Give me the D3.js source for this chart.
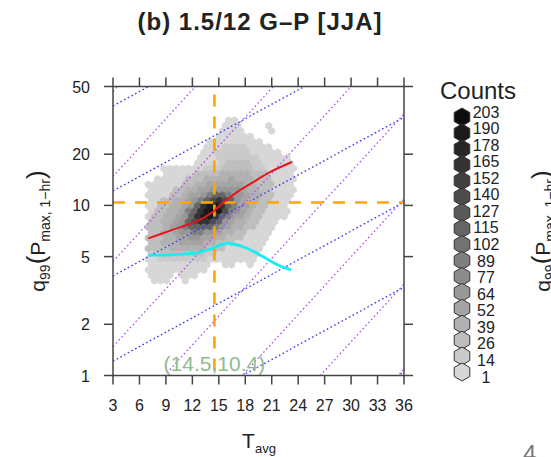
<!DOCTYPE html>
<html>
<head>
<meta charset="utf-8">
<script src="https://cdn.jsdelivr.net/npm/d3@7"></script>
<style>
  body { margin: 0; background: #fff; }
  text { font-family: "Liberation Sans", Arial, Helvetica, sans-serif; fill: #222; }
</style>
</head>
<body>
<svg id="chart" width="551" height="457"></svg>
<script>
// ---- data ----
const xTicks = [3, 6, 9, 12, 15, 18, 21, 24, 27, 30, 33, 36];
const yTicks = [1, 2, 5, 10, 20, 50];
const legendCounts = [203, 190, 178, 165, 152, 140, 127, 115, 102, 89, 77, 64, 52, 39, 26, 14, 1];

// hexbin cells, top row first; each char is the legend class (1 = lightest ... H = 17 darkest), "." = empty
const hexRows = [
  ".............11..........",
  "............111....1.....",
  "............1111....1....",
  "...........111111........",
  "..........111111111......",
  ".........11122221111.....",
  ".........1122222211111...",
  "........111222222211111..",
  "........1111233332211111.",
  "..1111111222333332211111.",
  "...111113333444443331111.",
  ".11111333444454443331111.",
  "111111334455555544333111.",
  "111133445566666544331111.",
  "11113345568AA86654433111.",
  "113344568ACECA654433111..",
  "11334456AEGGEA855433111..",
  "1334458AEGHGC8654331111..",
  "1334456AEGGEA8554331111..",
  "334456ACEECA654433111....",
  "3334568AAAA8654433111....",
  "33445668866544331111.....",
  "33344556655443331111.....",
  "3344455554433311111......",
  "3333444444333111111......",
  "223333333221111111.......",
  "112222222211111111.......",
  "1111111111..11..1........",
  "1111111111...............",
  "1111.111.................",
  ".111..1.................."
];
const hexT0 = 7.0;     // T of column 0
const hexDT = 0.7;     // column spacing in T
const hexTopQ = 31.62; // q of the top row

// conditional q99 curves
const redT = [7.0, 9.8, 12.6, 14.3, 15.4, 17.1, 18.9, 20.8, 23.3];
const redQ = [6.4, 7.2, 8.1, 9.15, 10.3, 12.0, 13.7, 15.7, 18.0];
const cyanT = [7.0, 10.1, 12.7, 14.3, 15.7, 16.6, 18.2, 20.0, 21.7, 23.2];
const cyanQ = [5.1, 5.14, 5.3, 5.6, 5.97, 5.93, 5.6, 5.0, 4.46, 4.17];

// crossing point
const crossT = 14.5;
const crossQ = 10.4;

// scaling reference lines: log10(q) = offset + slope * T
const blueOffsets = [-1, -0.5, 0, 0.5, 1, 1.5];
const blueSlope = 0.0283;
const purpleOffsets = [-2, -1.5, -1, -0.5, 0, 0.5, 1, 1.5];
const purpleSlope = 0.0566;

// ---- drawing ----
const svg = d3.select("#chart");
const plotL = 113, plotR = 404, plotT = 86.5, plotB = 375.5;

const x = d3.scaleLinear().domain([3, 36]).range([plotL, plotR]);
const y = d3.scaleLog().domain([1, 50]).range([plotB, plotT]);

svg.append("defs").append("clipPath").attr("id", "plotClip")
  .append("rect")
    .attr("x", plotL).attr("y", plotT)
    .attr("width", plotR - plotL).attr("height", plotB - plotT);

const plot = svg.append("g").attr("clip-path", "url(#plotClip)");

// colour ramp, same one for cells and legend
const grey = d3.scaleLinear().domain([1, 203]).range(["#d7d7d7", "#0d0d0d"]);

function hexPath(cx, cy, r) {
  const pts = d3.range(6).map(i => {
    const a = Math.PI / 6 + i * Math.PI / 3;
    return [cx + r * Math.cos(a), cy + r * Math.sin(a)];
  });
  return "M" + pts.join("L") + "Z";
}

// hex grid geometry from the x scale, so hexagons are regular on screen
const colPx = x(hexT0 + hexDT) - x(hexT0);
const hexR = colPx / Math.sqrt(3);
const rowPx = 1.5 * hexR;
const rowTop = y(hexTopQ);

const classCodes = "123456789ABCDEFGH";
const cells = [];
hexRows.forEach((row, i) => {
  row.split("").forEach((ch, j) => {
    const k = classCodes.indexOf(ch) + 1;
    if (k === 0) return;
    cells.push({ row: i, col: j, count: legendCounts[legendCounts.length - k] });
  });
});

plot.append("g")
  .selectAll("path")
  .data(cells)
  .join("path")
    .attr("d", d => hexPath(
      x(hexT0 + d.col * hexDT) + (d.row % 2 ? colPx / 2 : 0),
      rowTop + d.row * rowPx,
      hexR))
    .attr("fill", d => grey(d.count))
    .attr("stroke", d => grey(d.count))
    .attr("stroke-width", 0.8);

// dotted scaling lines
const refLine = d3.line().x(d => x(d[0])).y(d => y(d[1]));
function refPoints(offset, slope) {
  return [3, 36].map(t => [t, Math.pow(10, offset + slope * t)]);
}
plot.append("g")
  .selectAll("path")
  .data(blueOffsets)
  .join("path")
    .attr("d", c => refLine(refPoints(c, blueSlope)))
    .attr("fill", "none")
    .attr("stroke", "#3c3cf5")
    .attr("stroke-width", 1.4)
    .attr("stroke-dasharray", "1.6,2.6");
plot.append("g")
  .selectAll("path")
  .data(purpleOffsets)
  .join("path")
    .attr("d", c => refLine(refPoints(c, purpleSlope)))
    .attr("fill", "none")
    .attr("stroke", "#b050f0")
    .attr("stroke-width", 1.3)
    .attr("stroke-dasharray", "1.6,2.6");

// orange dashed cross
plot.append("line")
  .attr("x1", x(crossT)).attr("x2", x(crossT))
  .attr("y1", plotT).attr("y2", plotB)
  .attr("stroke", "#ffa500").attr("stroke-width", 2.6)
  .attr("stroke-dasharray", "12,10").attr("stroke-dashoffset", -8);
plot.append("line")
  .attr("x1", plotL).attr("x2", plotR)
  .attr("y1", y(crossQ)).attr("y2", y(crossQ))
  .attr("stroke", "#ffa500").attr("stroke-width", 2.6)
  .attr("stroke-dasharray", "12,10");

// curves
const curve = d3.line().curve(d3.curveCatmullRom).x(d => x(d[0])).y(d => y(d[1]));
plot.append("path")
  .attr("d", curve(redT.map((t, i) => [t, redQ[i]])))
  .attr("fill", "none").attr("stroke", "#e8141c").attr("stroke-width", 2);
plot.append("path")
  .attr("d", curve(cyanT.map((t, i) => [t, cyanQ[i]])))
  .attr("fill", "none").attr("stroke", "#18eef2").attr("stroke-width", 2.8);

// crossing label
svg.append("text")
  .attr("x", x(crossT)).attr("y", 371)
  .attr("text-anchor", "middle")
  .style("font-size", "21px")
  .style("fill", "#8fbc8f")
  .text(`(${crossT},${crossQ})`);

// frame and ticks (outward on all four sides)
svg.append("rect")
  .attr("x", plotL).attr("y", plotT)
  .attr("width", plotR - plotL).attr("height", plotB - plotT)
  .attr("fill", "none").attr("stroke", "#444").attr("stroke-width", 1.5);

const tickLen = 9;
const ticks = svg.append("g").attr("stroke", "#444").attr("stroke-width", 1.5);
xTicks.forEach(t => {
  ticks.append("line").attr("x1", x(t)).attr("x2", x(t)).attr("y1", plotB).attr("y2", plotB + tickLen);
  ticks.append("line").attr("x1", x(t)).attr("x2", x(t)).attr("y1", plotT).attr("y2", plotT - tickLen);
});
yTicks.forEach(t => {
  ticks.append("line").attr("y1", y(t)).attr("y2", y(t)).attr("x1", plotL).attr("x2", plotL - tickLen);
  ticks.append("line").attr("y1", y(t)).attr("y2", y(t)).attr("x1", plotR).attr("x2", plotR + tickLen);
});

svg.append("g")
  .selectAll("text")
  .data(xTicks)
  .join("text")
    .attr("x", d => x(d)).attr("y", 411)
    .attr("text-anchor", "middle")
    .style("font-size", "16px")
    .text(d => d);
svg.append("g")
  .selectAll("text")
  .data(yTicks)
  .join("text")
    .attr("x", 90).attr("y", d => y(d) + 6)
    .attr("text-anchor", "end")
    .style("font-size", "16px")
    .text(d => d);

// title
svg.append("text")
  .attr("x", 260).attr("y", 30)
  .attr("text-anchor", "middle")
  .style("font-size", "24px").style("font-weight", "bold")
  .style("letter-spacing", "1px")
  .text("(b) 1.5/12 G\u2013P [JJA]");

// x axis title
const xt = svg.append("text")
  .attr("x", 259).attr("y", 448)
  .attr("text-anchor", "middle")
  .style("font-size", "21px");
xt.append("tspan").text("T");
xt.append("tspan").attr("dy", 5).style("font-size", "13px").text("avg");

// y axis title (also the clipped copy belonging to the next panel)
function yTitle(tx) {
  const t = svg.append("text")
    .attr("transform", `translate(${tx},231) rotate(-90)`)
    .attr("text-anchor", "middle")
    .style("font-size", "21px");
  t.append("tspan").text("q");
  t.append("tspan").attr("dy", 5).style("font-size", "14px").text("99");
  t.append("tspan").attr("dy", -5).style("font-size", "26px").text("(");
  t.append("tspan").text("P");
  t.append("tspan").attr("dy", 5).style("font-size", "14px").text("max, 1\u2212hr");
  t.append("tspan").attr("dy", -5).style("font-size", "26px").text(")");
}
yTitle(45);
yTitle(550);
svg.append("text").attr("x", 523).attr("y", 462)
  .style("font-size", "24px").style("fill", "#777").text("4");

// legend
svg.append("text")
  .attr("x", 478).attr("y", 99)
  .attr("text-anchor", "middle")
  .style("font-size", "24px")
  .text("Counts");

const legHexY = d3.scaleLinear().domain([0, legendCounts.length - 1]).range([117, 372]);
const legLabY = d3.scaleLinear().domain([0, legendCounts.length - 1]).range([112, 377]);

svg.append("g")
  .selectAll("path")
  .data(legendCounts)
  .join("path")
    .attr("d", (d, i) => hexPath(462, legHexY(i), 9))
    .attr("fill", d => grey(d))
    .attr("stroke", "#333")
    .attr("stroke-width", 1);

svg.append("g")
  .selectAll("text")
  .data(legendCounts)
  .join("text")
    .attr("x", 486).attr("y", (d, i) => legLabY(i) + 5.5)
    .attr("text-anchor", "middle")
    .style("font-size", "16px")
    .text(d => d);
</script>
</body>
</html>
